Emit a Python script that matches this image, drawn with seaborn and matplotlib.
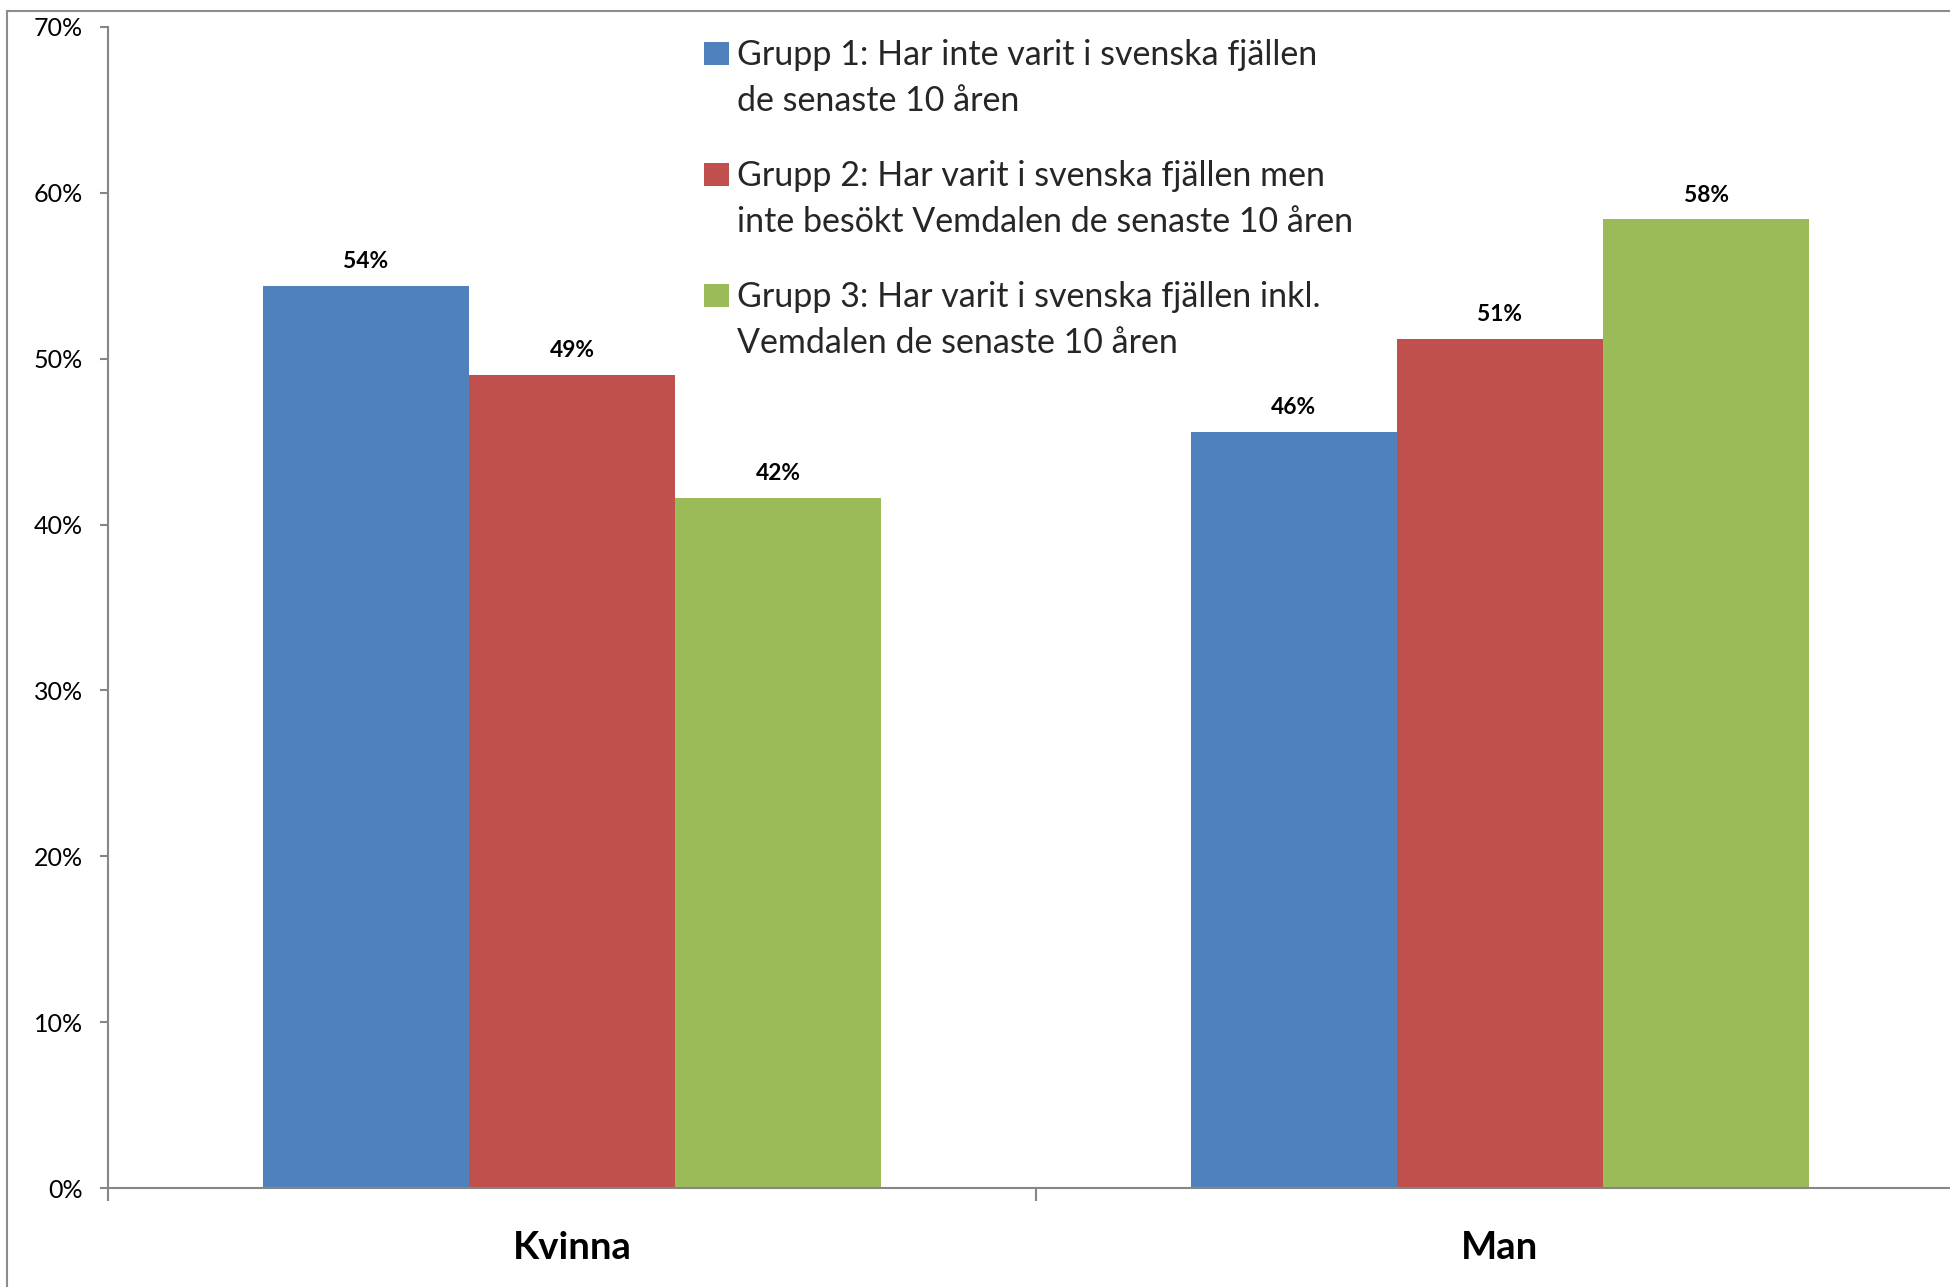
import matplotlib
matplotlib.use("Agg")
import matplotlib.pyplot as plt
import seaborn as sns
import pandas as pd
from matplotlib.patches import Rectangle, Patch
from matplotlib.legend_handler import HandlerPatch
from matplotlib.ticker import FixedLocator, FuncFormatter

# ---------------- data ----------------
categories = ["Kvinna", "Man"]
group_labels = [
    "Grupp 1: Har inte varit i svenska fjällen\nde senaste 10 åren",
    "Grupp 2: Har varit i svenska fjällen men\ninte besökt Vemdalen de senaste 10 åren",
    "Grupp 3: Har varit i svenska fjällen inkl.\nVemdalen de senaste 10 åren",
]
grupp1 = [54.4, 45.6]
grupp2 = [49.0, 51.2]
grupp3 = [41.6, 58.4]
y_ticks = [0, 10, 20, 30, 40, 50, 60, 70]
colors = ["#4F81BD", "#C0504D", "#9BBB59"]

rows = []
for g, vals in zip(group_labels, [grupp1, grupp2, grupp3]):
    for c, v in zip(categories, vals):
        rows.append({"Kön": c, "Grupp": g, "Andel": v})
df = pd.DataFrame(rows)

# ---------------- style ----------------
sns.set_theme(style="white")
plt.rcParams["font.family"] = ["Lato", "DejaVu Sans"]

W, H = 1950, 1287
fig = plt.figure(figsize=(W / 100, H / 100), dpi=100)
fig.patch.set_facecolor("white")

ax_left, ax_right = 108, 1964
ax_top, ax_bottom = 27, 1188
ax = fig.add_axes([ax_left / W, 1 - ax_bottom / H,
                   (ax_right - ax_left) / W, (ax_bottom - ax_top) / H])

sns.barplot(data=df, x="Kön", y="Andel", hue="Grupp", order=categories,
            hue_order=group_labels, palette=colors, width=0.667, gap=0,
            saturation=1, edgecolor="none", linewidth=0, ax=ax, legend=False)

ax.set_xlim(-0.5, 1.5)
ax.set_ylim(0, 70)
ax.yaxis.set_major_locator(FixedLocator(y_ticks))
ax.yaxis.set_major_formatter(FuncFormatter(lambda v, p: f"{v:.0f}%"))
ax.set_xlabel("")
ax.set_ylabel("")

axis_color = "#868686"
for s in ["top", "right"]:
    ax.spines[s].set_visible(False)
for s in ["left", "bottom"]:
    ax.spines[s].set_color(axis_color)
    ax.spines[s].set_linewidth(1.5)

ax.tick_params(axis="y", which="major", left=True, length=6, width=1.5,
               color=axis_color, pad=12, labelsize=18, labelcolor="black")
ax.tick_params(axis="x", which="major", length=0, pad=31, labelsize=27.5,
               labelcolor="black")
for t in ax.get_xticklabels():
    t.set_fontweight("bold")
ax.xaxis.set_minor_locator(FixedLocator([-0.5, 0.5, 1.5]))
ax.tick_params(axis="x", which="minor", bottom=True, length=9, width=1.5,
               color=axis_color)

# value labels
for cont in ax.containers:
    ax.bar_label(cont, labels=[f"{v:.0f}%" for v in cont.datavalues],
                 padding=10, fontsize=16.4, fontweight="bold", color="black")


# legend: handle aligned with the first line of each two-line label
def top_square(legend, orig_handle, xdescent, ydescent, width, height, fontsize):
    return Rectangle((-xdescent, -ydescent + 18.5), width, height)


handles = [Patch(facecolor=c, edgecolor="none") for c in colors]
leg = fig.legend(handles, group_labels, loc="upper left",
                 bbox_to_anchor=(704 / W, 1 - 39 / H), bbox_transform=fig.transFigure,
                 frameon=False, fontsize=24.5, handlelength=0.72, handleheight=0.68,
                 handletextpad=0.25, labelspacing=1.25, borderpad=0, borderaxespad=0,
                 handler_map={Patch: HandlerPatch(patch_func=top_square)})
for t in leg.get_texts():
    t.set_linespacing(1.55)

# outer chart frame
fig.add_artist(Rectangle((7 / W, -0.1), 1.2, 1 - 11 / H + 0.1,
                         transform=fig.transFigure, fill=False,
                         edgecolor="#8C8C8C", linewidth=1.5))

fig.savefig("out.png", dpi=100, facecolor="white")
